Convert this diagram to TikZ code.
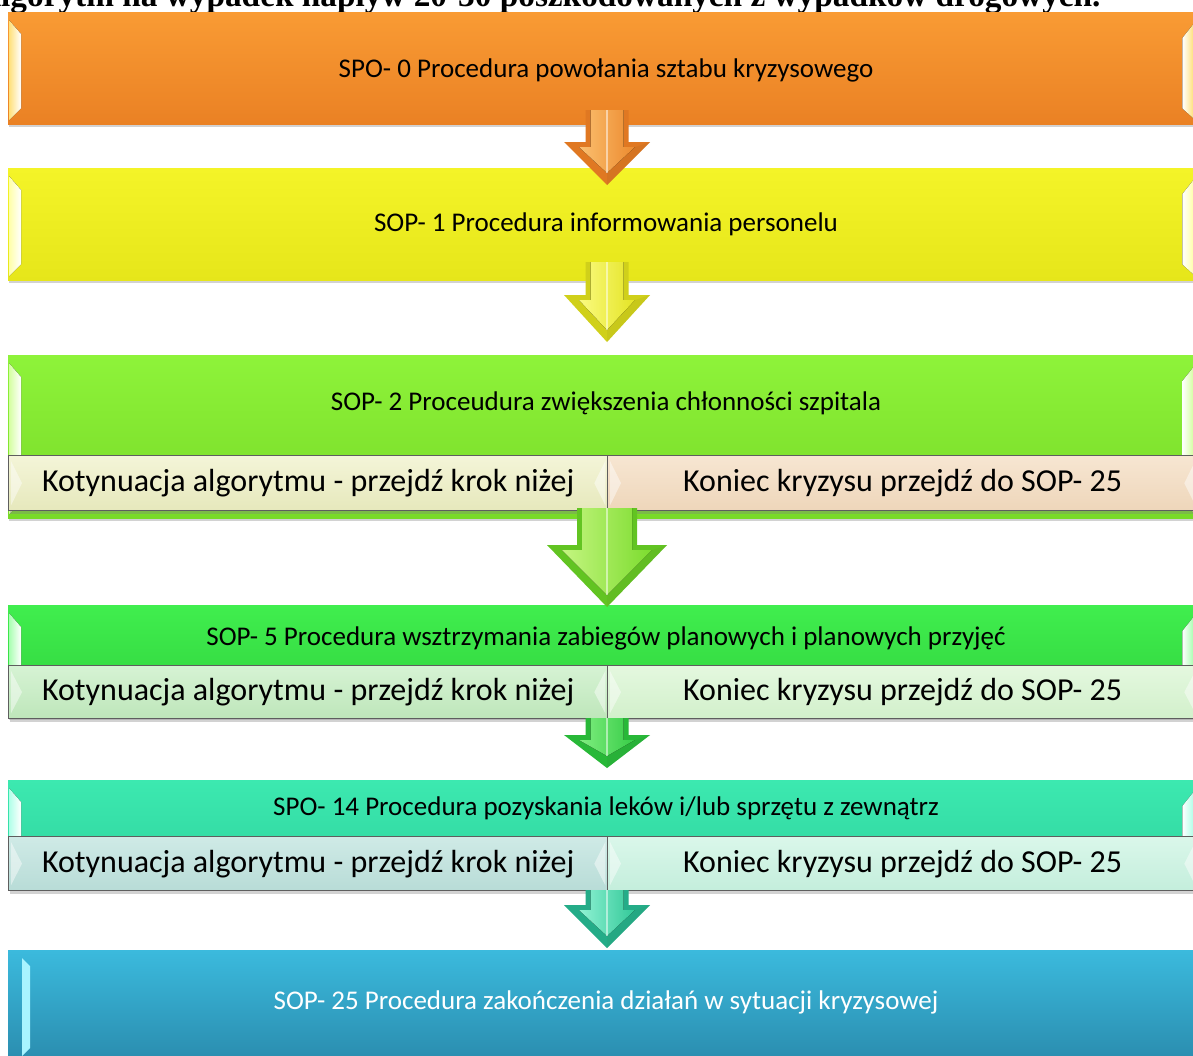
\documentclass[tikz,border=0pt]{standalone}
\usepackage{fontspec}
\setmainfont{Carlito}
\newfontfamily\titlefont{Liberation Serif}
\usetikzlibrary{calc,shadows}

\definecolor{orA}{HTML}{F99B34}\definecolor{orB}{HTML}{EA8124}\definecolor{orL}{HTML}{FFE07A}
\definecolor{yeA}{HTML}{F4F428}\definecolor{yeB}{HTML}{E6E61A}\definecolor{yeL}{HTML}{FFFFA8}
\definecolor{grA}{HTML}{8EF33A}\definecolor{grB}{HTML}{78DA27}\definecolor{grL}{HTML}{D4FFA0}
\definecolor{gnA}{HTML}{40EE4E}\definecolor{gnB}{HTML}{2FD03C}\definecolor{gnL}{HTML}{A8FFB0}
\definecolor{tqA}{HTML}{3CE9B0}\definecolor{tqB}{HTML}{2ED29C}\definecolor{tqL}{HTML}{B0FFE8}
\definecolor{blA}{HTML}{3BBADD}\definecolor{blB}{HTML}{2A8CAE}\definecolor{blL}{HTML}{A8F4FF}
\definecolor{frame}{HTML}{5E5E5E}
% choice box fills
\definecolor{c2lA}{HTML}{F4F5D8}\definecolor{c2lB}{HTML}{E6E8BC}
\definecolor{c2rA}{HTML}{F7E6D2}\definecolor{c2rB}{HTML}{EED6BA}
\definecolor{c5lA}{HTML}{D6F3D4}\definecolor{c5lB}{HTML}{BEE6BA}
\definecolor{c5rA}{HTML}{E4F8DF}\definecolor{c5rB}{HTML}{D2F0CB}
\definecolor{c14lA}{HTML}{CFEAE6}\definecolor{c14lB}{HTML}{B8DCD7}
\definecolor{c14rA}{HTML}{DAF7EA}\definecolor{c14rB}{HTML}{C4EEDC}
% arrow colours: edge, light facet, dark facet
\definecolor{a1E}{HTML}{E07822}\definecolor{a1L}{HTML}{FBC070}\definecolor{a1D}{HTML}{EC8A2E}
\definecolor{a2E}{HTML}{D0D01A}\definecolor{a2L}{HTML}{FAFA80}\definecolor{a2D}{HTML}{E4E424}
\definecolor{a3E}{HTML}{62C422}\definecolor{a3L}{HTML}{C4F580}\definecolor{a3D}{HTML}{7CDC2E}
\definecolor{a4E}{HTML}{28B838}\definecolor{a4L}{HTML}{80EE80}\definecolor{a4D}{HTML}{36CC46}
\definecolor{a5E}{HTML}{24AC88}\definecolor{a5L}{HTML}{90F2D4}\definecolor{a5D}{HTML}{32C898}

\tikzset{
  panel/.style={rectangle, draw=none, inner sep=0pt, anchor=north west,
    minimum width=1185,
    drop shadow={shadow xshift=1pt, shadow yshift=-3pt, opacity=.35}},
  choice/.style={rectangle, draw=frame, line width=1.3pt, inner sep=0pt,
    anchor=north west, font=\fontsize{32}{38}\selectfont,
    drop shadow={shadow xshift=1pt, shadow yshift=-3pt, opacity=.35}},
  steptext/.style={inner sep=0pt, font=\fontsize{27}{32}\selectfont},
}

% light bevel strips on the short sides of a panel
\newcommand\panelbevel[2]{%
  \fill[left color=#2, right color=#2!0] ($(#1.north west)+(1,8)$) -- ($(#1.north west)+(13,22)$)
     -- ($(#1.south west)+(13,-16)$) -- ($(#1.south west)+(1,-4)$) -- cycle;
  \fill[right color=#2, left color=#2!0] ($(#1.north east)+(0,12)$) -- ($(#1.north east)+(-11,26)$)
     -- ($(#1.south east)+(-11,-16)$) -- ($(#1.south east)+(0,-6)$) -- cycle;
}
% small bevel facets at the ends of a choice box
\newcommand\choicebevel[1]{%
  \fill[white,opacity=.45] ($(#1.north west)+(3,6)$) -- ($(#1.west)+(14,0)$) -- ($(#1.south west)+(3,-6)$) -- cycle;
  \fill[white,opacity=.45] ($(#1.north east)+(-3,6)$) -- ($(#1.east)+(-14,0)$) -- ($(#1.south east)+(-3,-6)$) -- cycle;
}
% bevelled block arrow: #1 start, #2 tip, #3 shaft half width, #4 head half width,
% #5 head length, #6 edge colour, #7 light facet, #8 dark facet
\newcommand\flowarrow[8]{%
  \fill[#6] let \p1=(#1), \p2=(#2) in
    (\x2-#3pt,\y1) -- (\x2+#3pt,\y1) -- (\x2+#3pt,\y2+#5pt) -- (\x2+#4pt,\y2+#5pt)
    -- (\x2,\y2) -- (\x2-#4pt,\y2+#5pt) -- (\x2-#3pt,\y2+#5pt) -- cycle;
  \fill[left color=#7, right color=#8] let \p1=(#1), \p2=(#2) in
    (\x2-#3pt+5pt,\y1) -- (\x2+#3pt-5pt,\y1) -- (\x2+#3pt-5pt,\y2+#5pt-5pt)
    -- (\x2+#4pt-15pt,\y2+#5pt-5pt) -- (\x2,\y2+12pt) -- (\x2-#4pt+15pt,\y2+#5pt-5pt)
    -- (\x2-#3pt+5pt,\y2+#5pt-5pt) -- cycle;
  \draw[white,opacity=.5,line width=2pt] let \p1=(#1), \p2=(#2) in
    (\x2,\y1) -- (\x2,\y2+12pt);
  \fill[#8!80!black,opacity=.3] let \p1=(#1), \p2=(#2) in
    (\x2,\y2) -- (\x2+#4pt,\y2+#5pt) -- (\x2+#4pt-15pt,\y2+#5pt-5pt) -- (\x2,\y2+12pt) -- cycle;
}

\begin{document}
\begin{tikzpicture}[x=1pt,y=-1pt]
\useasboundingbox (0,0) rectangle (1193,1055);
\clip (0,0) rectangle (1193,1055);
\fill[white] (0,0) rectangle (1193,1055);

% heading line above the chart
\node[anchor=base west, inner sep=0pt, font=\titlefont\bfseries\fontsize{33.3}{40}\selectfont]
  (title) at (-23,6) {Algorytm na wypadek napływ 20-30 poszkodowanych z wypadków drogowych.};

% procedure panels
\node[panel, minimum height=112, top color=orA, bottom color=orB] (sop0) at (8,12) {};
\panelbevel{sop0}{orL}
\node[steptext] (t0) at (606,70) {SPO- 0 Procedura powołania sztabu kryzysowego};

\node[panel, minimum height=112, top color=yeA, bottom color=yeB] (sop1) at (8,168) {};
\panelbevel{sop1}{yeL}
\node[steptext] (t1) at (606,224) {SOP- 1 Procedura informowania personelu};

\node[panel, minimum height=163, top color=grA, bottom color=grB] (sop2) at (8,355) {};
\panelbevel{sop2}{grL}
\node[steptext] (t2) at (606,403) {SOP- 2 Proceudura zwiększenia chłonności szpitala};
\node[choice, minimum width=599, minimum height=55, top color=c2lA, bottom color=c2lB] (c2l) at (8,455) {Kotynuacja algorytmu - przejdź krok niżej};
\node[choice, minimum width=590, minimum height=55, top color=c2rA, bottom color=c2rB] (c2r) at (607,455) {Koniec kryzysu przejdź do SOP- 25};
\choicebevel{c2l}\choicebevel{c2r}

\node[panel, minimum height=112, top color=gnA, bottom color=gnB] (sop5) at (8,605) {};
\panelbevel{sop5}{gnL}
\node[steptext] (t5) at (606,638) {SOP- 5 Procedura wsztrzymania zabiegów planowych i planowych przyjęć};
\node[choice, minimum width=599, minimum height=53, top color=c5lA, bottom color=c5lB] (c5l) at (8,665) {Kotynuacja algorytmu - przejdź krok niżej};
\node[choice, minimum width=590, minimum height=53, top color=c5rA, bottom color=c5rB] (c5r) at (607,665) {Koniec kryzysu przejdź do SOP- 25};
\choicebevel{c5l}\choicebevel{c5r}

\node[panel, minimum height=108, top color=tqA, bottom color=tqB] (sop14) at (8,780) {};
\panelbevel{sop14}{tqL}
\node[steptext] (t14) at (606,808) {SPO- 14 Procedura pozyskania leków i/lub sprzętu z zewnątrz};
\node[choice, minimum width=599, minimum height=54, top color=c14lA, bottom color=c14lB] (c14l) at (8,836) {Kotynuacja algorytmu - przejdź krok niżej};
\node[choice, minimum width=590, minimum height=54, top color=c14rA, bottom color=c14rB] (c14r) at (607,836) {Koniec kryzysu przejdź do SOP- 25};
\choicebevel{c14l}\choicebevel{c14r}

\node[panel, minimum height=112, top color=blA, bottom color=blB] (sop25) at (8,950) {};
\fill[blL] ($(sop25.north west)+(14,8)$) -- ($(sop25.north west)+(22,16)$) -- ($(sop25.north west)+(22,98)$) -- ($(sop25.north west)+(14,106)$) -- cycle;
\node[steptext, text=white] (t25) at (606,1002) {SOP- 25 Procedura zakończenia działań w sytuacji kryzysowej};

% arrow ends between the panels
\coordinate (f1) at (607,110);  \coordinate (e1) at (607,185);
\coordinate (f2) at (607,262);  \coordinate (e2) at (607,342);
\coordinate (f3) at (607,508);  \coordinate (e3) at (607,607);
\coordinate (f4) at (607,718);  \coordinate (e4) at (607,768);
\coordinate (f5) at (607,890);  \coordinate (e5) at (607,948);

\flowarrow{f1}{e1}{21.5}{43}{43}{a1E}{a1L}{a1D}
\flowarrow{f2}{e2}{21.5}{43}{47}{a2E}{a2L}{a2D}
\flowarrow{f3}{e3}{30}{60}{62}{a3E}{a3L}{a3D}
\flowarrow{f4}{e4}{21.5}{43}{33}{a4E}{a4L}{a4D}
\flowarrow{f5}{e5}{21.5}{43}{43}{a5E}{a5L}{a5D}
\end{tikzpicture}
\end{document}
